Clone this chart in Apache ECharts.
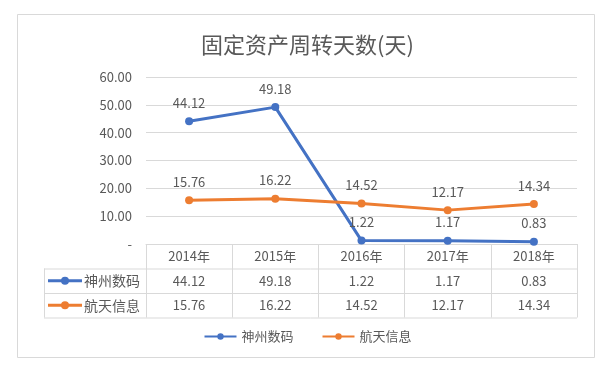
<!DOCTYPE html>
<html>
<head>
<meta charset="utf-8">
<script src="https://cdn.jsdelivr.net/npm/echarts@6/dist/echarts.min.js"></script>
<style>
  html, body { margin: 0; padding: 0; background: #fff; }
  #chart { width: 615px; height: 366px; }
</style>
</head>
<body>
<div id="chart"></div>
<script>
// data
var years = ["2014年", "2015年", "2016年", "2017年", "2018年"];
var shenzhou = [44.12, 49.18, 1.22, 1.17, 0.83];
var hangtian = [15.76, 16.22, 14.52, 12.17, 14.34];
var seriesNames = ["神州数码", "航天信息"];
var colors = ["#4472C4", "#ED7D31"];

var font = "Noto Sans CJK SC";
var txt = "#595959";
var line = "#d9d9d9";

// plot area (px)
var gl = 146, gr = 577, gt = 77, gb = 244;
var rowH = 24.5;

var myChart = echarts.init(document.getElementById("chart"));

function fmt(v) {
  return v.toFixed(2);
}

function tableAxis(idx, vals) {
  return {
    type: "category",
    data: years,
    position: "bottom",
    offset: idx * rowH,
    axisLine: { show: false },
    axisTick: { show: false },
    axisLabel: {
      margin: 6,
      color: txt,
      fontFamily: font,
      fontSize: 13,
      formatter: function (v, i) {
        return vals ? fmt(vals[i]) : v;
      },
    },
  };
}

var xAxes = [
  {
    type: "category",
    data: years,
    boundaryGap: true,
    axisLine: { show: true, lineStyle: { color: line } },
    axisTick: {
      show: true,
      inside: false,
      length: rowH * 3,
      lineStyle: { color: line },
    },
    axisLabel: {
      margin: 6,
      color: txt,
      fontFamily: font,
      fontSize: 13,
    },
  },
  tableAxis(1, shenzhou),
  tableAxis(2, hangtian),
];

function hline(y, x1, x2) {
  return {
    type: "line",
    shape: { x1: x1, y1: y, x2: x2, y2: y },
    style: { stroke: line, lineWidth: 1 },
    silent: true,
  };
}
function vline(x, y1, y2) {
  return {
    type: "line",
    shape: { x1: x, y1: y1, x2: x, y2: y2 },
    style: { stroke: line, lineWidth: 1 },
    silent: true,
  };
}
function key(i, y) {
  return {
    type: "group",
    children: [
      {
        type: "line",
        shape: { x1: 48, y1: y, x2: 82, y2: y },
        style: { stroke: colors[i], lineWidth: 3 },
      },
      {
        type: "circle",
        shape: { cx: 65, cy: y, r: 4 },
        style: { fill: colors[i] },
      },
      {
        type: "text",
        x: 84,
        y: y,
        style: {
          text: seriesNames[i],
          fill: txt,
          font: "14px '" + font + "'",
          verticalAlign: "middle",
        },
      },
    ],
  };
}

var tableLeft = 44;
var option = {
  backgroundColor: "#fff",
  animation: false,
  title: {
    text: "固定资产周转天数(天)",
    left: "center",
    top: 29,
    textStyle: {
      color: txt,
      fontFamily: font,
      fontWeight: "normal",
      fontSize: 22,
    },
  },
  grid: {
    left: gl,
    right: 615 - gr,
    top: gt,
    bottom: 366 - gb,
    containLabel: false,
  },
  legend: {
    bottom: 18,
    left: "center",
    itemWidth: 32,
    itemHeight: 8,
    itemGap: 28,
    textStyle: { color: txt, fontFamily: font, fontSize: 13 },
    data: seriesNames,
  },
  xAxis: xAxes,
  yAxis: {
    type: "value",
    min: 0,
    max: 60,
    interval: 10,
    axisLine: { show: false },
    axisTick: { show: false },
    splitLine: { lineStyle: { color: line } },
    axisLabel: {
      margin: 14,
      color: txt,
      fontFamily: font,
      fontSize: 13,
      formatter: function (v) {
        return v === 0 ? "-" : v.toFixed(2);
      },
    },
  },
  series: [
    {
      name: seriesNames[0],
      type: "line",
      data: shenzhou,
      color: colors[0],
      symbol: "circle",
      symbolSize: 8,
      lineStyle: { width: 3 },
      label: {
        show: true,
        position: "top",
        distance: 8,
        color: txt,
        fontFamily: font,
        fontSize: 13,
        formatter: function (p) {
          return fmt(p.value);
        },
      },
    },
    {
      name: seriesNames[1],
      type: "line",
      data: hangtian,
      color: colors[1],
      symbol: "circle",
      symbolSize: 8,
      lineStyle: { width: 3 },
      label: {
        show: true,
        position: "top",
        distance: 8,
        color: txt,
        fontFamily: font,
        fontSize: 13,
        formatter: function (p) {
          return fmt(p.value);
        },
      },
    },
  ],
  graphic: [
    {
      type: "rect",
      shape: { x: 17.5, y: 14.5, width: 577, height: 343 },
      style: { fill: "none", stroke: line, lineWidth: 1 },
      silent: true,
      z: -1,
    },
    hline(gb + rowH * 1 + 0.5, tableLeft, gr),
    hline(gb + rowH * 2 + 0.5, tableLeft, gr),
    hline(gb + rowH * 3 + 0.5, tableLeft, gr),
    vline(tableLeft + 0.5, gb + rowH, gb + rowH * 3),
    key(0, gb + rowH * 1.5),
    key(1, gb + rowH * 2.5),
  ],
};

option && myChart.setOption(option);
</script>
</body>
</html>
